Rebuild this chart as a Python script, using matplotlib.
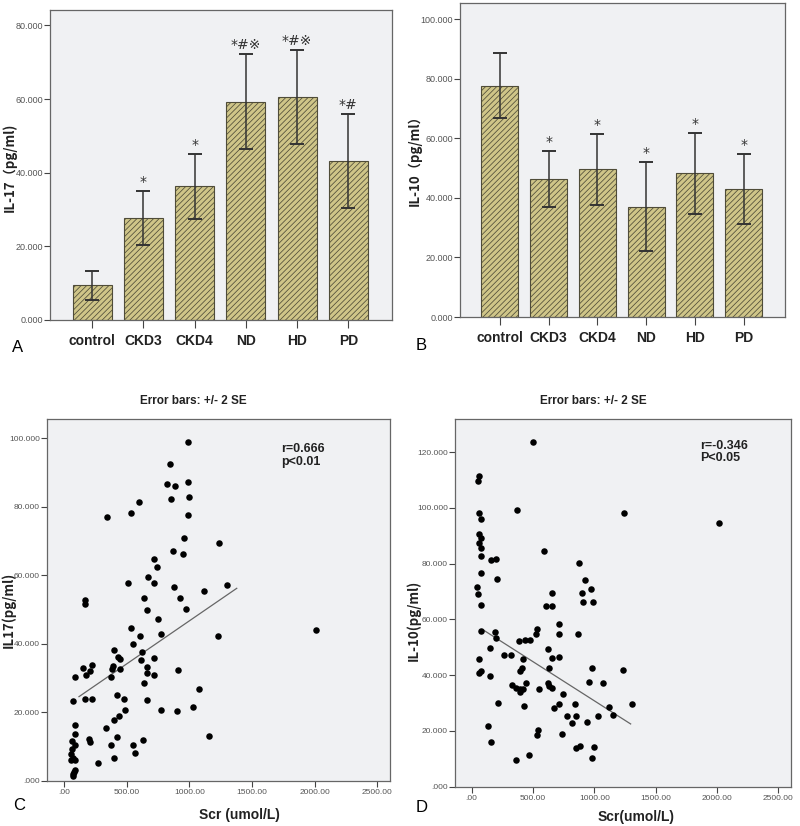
import numpy as np
import matplotlib
matplotlib.use('Agg')
import matplotlib.pyplot as plt

plt.rcParams['font.family'] = ['Liberation Sans Narrow', 'Liberation Sans', 'DejaVu Sans']
plt.rcParams['hatch.linewidth'] = 0.55
plt.rcParams['hatch.color'] = '#47432c'

# ---- 柱状图数据 ----
groups = ['control', 'CKD3', 'CKD4', 'ND', 'HD', 'PD']

il17_mean = [9.5, 27.8, 36.4, 59.3, 60.5, 43.2]
il17_low = [5.3, 20.4, 27.4, 46.4, 47.8, 30.3]
il17_high = [13.2, 35.0, 45.0, 72.2, 73.2, 56.0]
il17_mark = ['', '*', '*', '*#※', '*#※', '*#']

il10_mean = [77.5, 46.3, 49.7, 37.0, 48.4, 43.1]
il10_low = [66.9, 36.9, 37.6, 22.1, 34.5, 31.2]
il10_high = [88.5, 55.7, 61.4, 52.0, 61.9, 54.7]
il10_mark = ['', '*', '*', '*', '*', '*']

# ---- 散点图数据 (Scr, IL-17) ----
scr_c = [990, 843, 825, 883, 987, 851, 1000, 596, 992, 537, 343, 955, 1234, 870,
         947, 721, 745, 673, 718, 511, 880, 1303, 1120, 170, 165, 641, 926, 662,
         973, 750, 535, 2006, 604, 774, 1229, 551, 402, 625, 434, 450, 614, 718,
         391, 380, 444, 662, 149, 221, 210, 907, 173, 660, 718, 90, 372, 638,
         1075, 426, 74, 165, 223, 479, 665, 489, 777, 902, 1029, 439, 399, 90,
         332, 90, 420, 1154, 199, 207, 66, 630, 90, 372, 548, 61, 567, 59, 69,
         88, 59, 399, 274, 90, 80, 69, 74]
il17_c = [98.8, 92.4, 86.6, 86.0, 87.3, 82.2, 82.8, 81.4, 77.5, 78.2, 77.1, 71.0,
          69.3, 67.0, 66.1, 64.8, 62.5, 59.5, 57.8, 57.7, 56.7, 57.2, 55.3, 52.8,
          51.6, 53.3, 53.3, 49.8, 50.3, 47.3, 44.7, 44.1, 42.2, 42.8, 42.3, 39.9,
          38.1, 37.5, 36.2, 35.5, 35.4, 35.8, 33.6, 32.6, 32.7, 33.3, 32.9, 33.7,
          32.2, 32.5, 30.9, 31.5, 31.0, 30.2, 30.2, 28.6, 26.9, 25.0, 23.2, 23.8,
          23.8, 23.9, 23.6, 20.7, 20.6, 20.4, 21.7, 19.1, 17.9, 16.3, 15.4, 13.7,
          12.8, 13.1, 12.3, 11.4, 11.8, 11.9, 10.6, 10.5, 10.5, 9.4, 8.3, 7.9,
          6.6, 6.2, 6.0, 6.8, 5.1, 3.2, 2.6, 1.9, 1.5]
fit_c_x = [120, 1378]
fit_c_y = [24.6, 56.2]

# ---- 散点图数据 (Scr, IL-10) ----
scr_d = [503, 62, 49, 370, 60, 76, 1239, 2019, 60, 73, 60, 76, 73, 590, 160, 198,
         878, 76, 207, 924, 46, 970, 54, 658, 897, 905, 989, 79, 603, 658, 712,
         79, 533, 522, 712, 867, 188, 198, 386, 435, 478, 147, 620, 264, 321,
         712, 60, 416, 658, 633, 410, 394, 981, 1231, 73, 57, 150, 1071, 954,
         443, 329, 622, 633, 652, 364, 391, 552, 421, 391, 742, 212, 427, 712,
         840, 1304, 1119, 668, 774, 848, 1030, 1152, 943, 815, 136, 543, 530,
         739, 158, 883, 853, 997, 470, 361, 983]
il10_d = [123.6, 111.5, 109.5, 99.4, 98.3, 96.1, 98.0, 94.6, 90.8, 89.1, 87.3,
          85.5, 82.7, 84.5, 81.4, 81.6, 80.3, 76.6, 74.4, 74.1, 71.5, 70.8, 69.0,
          69.4, 69.5, 66.3, 66.3, 65.1, 64.8, 64.8, 58.4, 56.0, 56.4, 54.7, 54.9,
          54.8, 55.6, 53.5, 52.2, 52.6, 52.5, 49.8, 49.5, 47.1, 47.1, 46.5, 45.9,
          45.8, 46.1, 42.7, 42.4, 41.6, 42.7, 41.9, 41.6, 40.7, 39.7, 37.1, 37.6,
          37.3, 36.4, 37.3, 36.1, 35.5, 35.5, 34.9, 34.9, 35.1, 34.0, 33.3, 30.0,
          29.1, 29.6, 29.7, 29.7, 28.7, 28.4, 25.4, 25.5, 25.4, 25.7, 23.1, 22.7,
          21.8, 20.3, 18.5, 18.9, 16.0, 14.7, 13.8, 14.1, 11.4, 9.7, 10.3]
fit_d_x = [103, 1296]
fit_d_y = [56.0, 22.5]

bg = '#f0f1f3'
tick_col = '#555555'


def style_axes(ax, lsize):
    ax.set_facecolor(bg)
    for s in ax.spines.values():
        s.set_color('#666666')
        s.set_linewidth(0.9)
    ax.tick_params(axis='y', direction='out', length=4, width=0.8,
                   color='#444444', labelsize=lsize, labelcolor=tick_col, pad=1)


def bar_panel(ax, mean, low, high, marks, yticks, ylim):
    style_axes(ax, 6.5)
    x = np.arange(len(groups))
    ax.bar(x, mean, width=0.76, color='#cfc588', edgecolor='#4f4c38',
           linewidth=0.8, hatch='//////', zorder=2)
    mean = np.array(mean)
    err = [mean - np.array(low), np.array(high) - mean]
    ax.errorbar(x, mean, yerr=err, fmt='none', ecolor='#333333',
                elinewidth=1.1, capsize=5, capthick=1.4, zorder=3)
    for xi, hi, m in zip(x, high, marks):
        if m:
            ax.annotate(m, (xi, hi), xytext=(0, 1.5), textcoords='offset points',
                        ha='center', va='bottom', fontsize=10, color='#333333',
                        family=['DejaVu Sans'])
    ax.set_xlim(-0.82, 5.85)
    ax.set_ylim(*ylim)
    ax.set_yticks(yticks)
    ax.set_yticklabels(['%.3f' % v for v in yticks])
    ax.set_xticks(x)
    ax.set_xticklabels(groups, fontsize=10, fontweight='bold', color='#222222')
    ax.tick_params(axis='x', direction='out', length=6, width=0.8, color='#444444', pad=4)


def fmt_scr(v):
    return '.00' if v == 0 else '%.2f' % v


def fmt_il(v):
    return '.000' if v == 0 else '%.3f' % v


def scatter_panel(ax, xs, ys, fx, fy, yticks, ylim, txt):
    style_axes(ax, 6)
    ax.scatter(xs, ys, s=22, color='black', zorder=3, linewidths=0)
    ax.plot(fx, fy, color='#666666', linewidth=0.9, zorder=2)
    ax.set_xlim(-135, 2600)
    ax.set_ylim(*ylim)
    xt = [0, 500, 1000, 1500, 2000, 2500]
    ax.set_xticks(xt)
    ax.set_xticklabels([fmt_scr(v) for v in xt])
    ax.set_yticks(yticks)
    ax.set_yticklabels([fmt_il(v) for v in yticks])
    ax.tick_params(axis='x', direction='out', length=4, width=0.8,
                   color='#444444', labelsize=6, labelcolor=tick_col, pad=2)
    ax.text(txt[0], txt[1], txt[2], fontsize=9, fontweight='bold',
            color='#222222', va='top', ha='left', linespacing=1.1)


fig = plt.figure(figsize=(8.0, 8.26), dpi=100)

axA = fig.add_axes([0.0625, 0.6126, 0.4275, 0.3753])
bar_panel(axA, il17_mean, il17_low, il17_high, il17_mark,
          [0, 20, 40, 60, 80], (0, 84.2))

axB = fig.add_axes([0.575, 0.6162, 0.40625, 0.3801])
bar_panel(axB, il10_mean, il10_low, il10_high, il10_mark,
          [0, 20, 40, 60, 80, 100], (0, 105.4))

axC = fig.add_axes([0.05875, 0.0545, 0.42875, 0.4383])
scatter_panel(axC, scr_c, il17_c, fit_c_x, fit_c_y,
              [0, 20, 40, 60, 80, 100], (0, 105.6), (1730, 98.5, 'r=0.666\np<0.01'))

axD = fig.add_axes([0.56875, 0.0476, 0.4196, 0.4452])
scatter_panel(axD, scr_d, il10_d, fit_d_x, fit_d_y,
              [0, 20, 40, 60, 80, 100, 120], (0, 131.9), (1860, 124.5, 'r=-0.346\nP<0.05'))

# y 轴标签
ylabels = [('IL-17（pg/ml)', 9, 167), ('IL-10（pg/ml）', 415, 157),
           ('IL17(pg/ml)', 8, 610), ('IL-10(pg/ml)', 413, 620)]
for txt, px, py in ylabels:
    fig.text(px / 800, 1 - py / 826, txt, rotation=90, fontsize=9.5, fontweight='bold',
             ha='center', va='center', color='#222222',
             family=['Liberation Sans Narrow', 'Noto Sans CJK SC', 'DejaVu Sans'])

# 面板标签与标题
for lab, (px, py) in zip('ABCD', [(18, 348), (421, 346), (19, 806), (422, 808)]):
    fig.text(px / 800, 1 - py / 826, lab, fontsize=12, ha='center', va='center',
             family=['Liberation Sans', 'DejaVu Sans'])
for cx in [193, 593]:
    fig.text(cx / 800, 1 - 401 / 826, 'Error bars: +/- 2 SE', fontsize=8.5,
             fontweight='bold', ha='center', va='center', color='#222222')
fig.text(239 / 800, 1 - 815 / 826, 'Scr (umol/L)', fontsize=10, fontweight='bold',
         ha='center', va='center', color='#222222')
fig.text(636 / 800, 1 - 817 / 826, 'Scr(umol/L)', fontsize=10, fontweight='bold',
         ha='center', va='center', color='#222222')

fig.savefig('out.png', dpi=100)
